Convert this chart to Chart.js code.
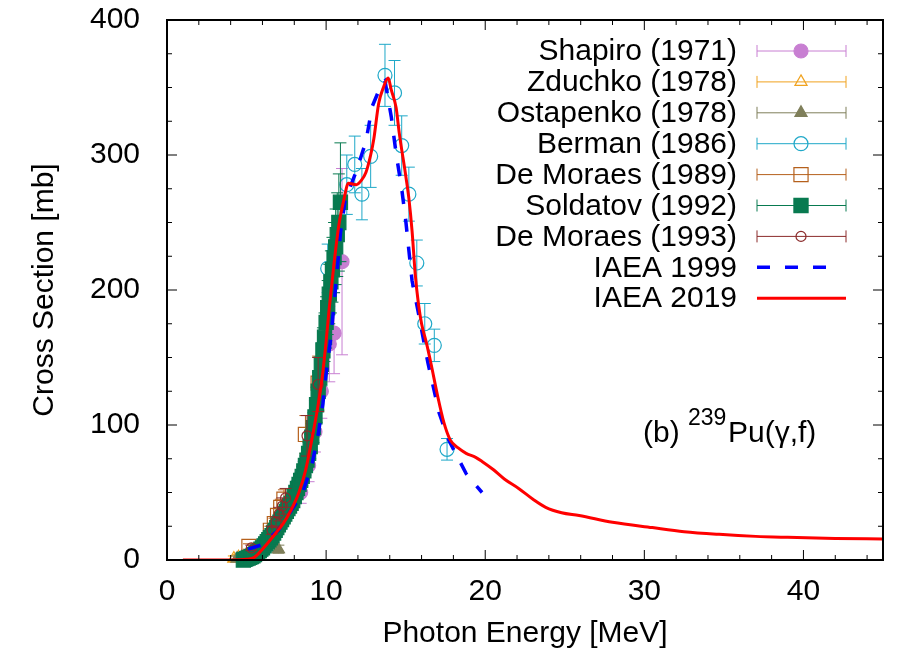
<!DOCTYPE html>
<html>
<head>
<meta charset="utf-8">
<script src="https://cdn.jsdelivr.net/npm/chart.js@4.4.1/dist/chart.umd.min.js"></script>
<style>
  html, body { margin: 0; padding: 0; background: #fff; }
</style>
</head>
<body>
<canvas id="xsChart" width="897" height="657"></canvas>
<script>
// ---- data (energy in MeV, cross section in mb) ----
const shapiroE   = [8.4, 8.9, 9.3, 9.7, 10.2, 10.5, 11.0];
const shapiroY   = [50, 70, 95, 125, 160, 168, 221];
const shapiroErr = [8, 12, 15, 20, 28, 30, 69];

const zduchkoE   = [4.2, 4.5, 4.8, 5.2];
const zduchkoY   = [1, 2, 2, 4];
const zduchkoErr = [2, 2, 2, 3];

const ostapenkoE   = [4.4, 4.7, 5.0, 7.0];
const ostapenkoY   = [1, 2, 3, 8];
const ostapenkoErr = [2, 2, 2, 3];

const bermanE   = [10.1, 11.3, 11.8, 12.25, 12.8, 13.7, 14.3, 14.75, 15.2, 15.7, 16.2, 16.8, 17.6];
const bermanY   = [216, 278, 293, 271, 299, 359, 346, 307, 271, 220, 175, 159, 82];
const bermanErr = [18, 22, 21, 19, 23, 23, 24, 22, 20, 17, 15, 12, 8];

const moraes89E   = [5.15, 6.5, 6.75, 6.95, 7.15, 7.35, 8.7, 9.5];
const moraes89Y   = [10, 22, 27, 33, 39, 45, 93, 131];
const moraes89Err = [2, 3, 4, 5, 6, 7, 14, 20];

const soldatovE = [4.8, 4.9, 5.0, 5.1, 5.2, 5.3, 5.4, 5.5, 5.6, 5.7, 5.8, 5.9, 6.0, 6.1, 6.2, 6.3,
                   6.4, 6.5, 6.6, 6.7, 6.8, 6.9, 7.0, 7.1, 7.2, 7.3, 7.4, 7.5, 7.6, 7.7, 7.8, 7.9,
                   8.0, 8.1, 8.2, 8.3, 8.4, 8.5, 8.6, 8.7, 8.8, 8.9, 9.0, 9.1, 9.2, 9.3, 9.4, 9.5,
                   9.6, 9.7, 9.8, 9.9, 10.0, 10.1, 10.2, 10.3, 10.4, 10.5, 10.6, 10.7, 10.8, 10.9];
const soldatovY = [0, 0.5, 1, 1.5, 2, 2.5, 3, 4, 5, 6, 7, 8, 9, 10.5, 12, 13.5,
                   15, 16.5, 18, 20, 22, 24, 26, 28, 30, 32, 34, 36, 38, 40, 42, 44,
                   47, 50, 53, 56, 59, 62, 66, 70, 74, 79, 84, 91, 98, 106, 115, 125,
                   135, 145, 155, 165, 176, 187, 197, 206, 215, 224, 232, 241, 250, 265];
const soldatovErr = [1, 1, 1, 1, 1, 1, 1, 1, 1, 1, 1, 1, 2, 2, 2, 2,
                     2, 2, 2, 3, 3, 3, 3, 3, 3, 4, 4, 4, 4, 4, 5, 5,
                     5, 5, 6, 6, 6, 7, 7, 7, 8, 8, 9, 10, 11, 12, 13, 14,
                     15, 16, 17, 18, 19, 20, 22, 23, 24, 26, 28, 31, 36, 44];

const moraes93E   = [5.3, 6.6, 6.85, 7.05, 7.25, 7.45, 8.8, 9.5];
const moraes93Y   = [9, 22, 28, 34, 40, 46, 92, 130];
const moraes93Err = [2, 3, 4, 5, 6, 7, 15, 20];

const iaea1999E = [5.1, 5.9, 7.0, 8.1, 8.5, 9.1, 9.5, 9.8, 10.05, 10.3, 10.5, 10.7, 10.9, 11.2, 11.9,
                   12.5, 12.9, 13.5, 13.7, 14.1, 14.4, 14.75, 15.0, 15.4, 15.8, 16.4, 17.1, 17.7, 18.8, 19.8];
const iaea1999Y = [8, 11, 22, 42, 49, 70, 93, 116, 143, 165, 190, 215, 242, 267, 288,
                   310, 336, 353, 355, 328, 301, 275, 252, 207, 183, 146, 109, 89, 64, 50];

const iaea2019E = [1.0, 2.0, 3.0, 4.0, 5.0, 5.5, 6.0, 6.5, 6.84, 7.3, 7.8, 8.29, 8.7, 9.1, 9.5, 9.75,
                   10.0, 10.2, 10.5, 10.8, 11.1, 11.4, 11.9, 12.2, 12.5, 12.8, 13.0, 13.3, 13.6, 13.9,
                   14.1, 14.4, 14.6, 15.0, 15.2, 15.4, 15.6, 15.8, 16.0, 16.3, 16.6, 17.0, 17.4, 17.8,
                   18.3, 18.8, 19.4, 19.8, 20.5, 21.2, 22.1, 23.0, 23.8, 24.8, 25.9, 28.0, 30.5, 32.5,
                   34.7, 37.0, 39.0, 42.0, 45.0];
const iaea2019Y = [0, 0, 0, 0, 0.5, 2, 8, 15, 20, 27, 37, 50, 66, 89, 115, 135,
                   162, 187, 220, 248, 266, 279, 278, 281, 287, 300, 312, 338, 350, 357,
                   348, 335, 316, 285, 268, 244, 212, 190, 175, 161, 145, 122, 102, 89,
                   83, 79, 76, 73, 67, 60, 53, 45, 39, 35, 33, 28, 24, 21,
                   19, 17.5, 16.8, 16, 15.5];

const xTicks = [0, 10, 20, 30, 40];
const yTicks = [0, 100, 200, 300, 400];

const FONT = "'Liberation Sans', Arial, Helvetica, sans-serif";

function pairs(E, Y) {
    return E.map((e, i) => ({ x: e, y: Y[i] }));
}

function markerSet(label, E, Y, err, color, style, radius, filled, order) {
    return {
        label: label,
        data: pairs(E, Y),
        errors: err,
        pointStyle: style,
        pointRadius: radius,
        pointBorderWidth: 1.2,
        pointBorderColor: color,
        pointBackgroundColor: filled ? color : 'rgba(0,0,0,0)',
        borderColor: color,
        backgroundColor: filled ? color : 'rgba(0,0,0,0)',
        showLine: false,
        order: order,
        clip: false
    };
}

// vertical error bars with caps, drawn under each set's markers
const errorBars = {
    id: 'errorBars',
    beforeDatasetDraw(chart, args) {
        const ds = chart.data.datasets[args.index];
        if (!ds.errors) return;
        const yScale = chart.scales.y;
        const ctx = chart.ctx;
        ctx.save();
        ctx.strokeStyle = ds.borderColor;
        ctx.lineWidth = 1;
        ctx.beginPath();
        args.meta.data.forEach((pt, i) => {
            const v = ds.data[i].y, e = ds.errors[i];
            const top = yScale.getPixelForValue(v + e);
            const bot = yScale.getPixelForValue(v - e);
            ctx.moveTo(pt.x, top); ctx.lineTo(pt.x, bot);
            ctx.moveTo(pt.x - 6, top); ctx.lineTo(pt.x + 6, top);
            ctx.moveTo(pt.x - 6, bot); ctx.lineTo(pt.x + 6, bot);
        });
        ctx.stroke();
        ctx.restore();
    }
};

// gnuplot-like frame with inward ticks on all four sides
const frameTicks = {
    id: 'frameTicks',
    afterDatasetsDraw(chart) {
        const { ctx, chartArea: a, scales: { x, y } } = chart;
        ctx.save();
        ctx.strokeStyle = '#000';
        ctx.lineWidth = 1;
        ctx.beginPath();
        for (let v = 0; v <= 45; v += 2) {
            const px = x.getPixelForValue(v);
            const len = v % 10 === 0 ? 10 : 5;
            ctx.moveTo(px, a.bottom); ctx.lineTo(px, a.bottom - len);
            ctx.moveTo(px, a.top); ctx.lineTo(px, a.top + len);
        }
        for (let v = 0; v <= 400; v += 25) {
            const py = y.getPixelForValue(v);
            const len = v % 100 === 0 ? 10 : 5;
            ctx.moveTo(a.left, py); ctx.lineTo(a.left + len, py);
            ctx.moveTo(a.right, py); ctx.lineTo(a.right - len, py);
        }
        ctx.stroke();
        ctx.lineWidth = 2;
        ctx.strokeRect(a.left, a.top, a.right - a.left, a.bottom - a.top);
        ctx.restore();
    }
};

// key in the top right corner and the reaction label
const keyAndLabel = {
    id: 'keyAndLabel',
    afterDraw(chart) {
        const ctx = chart.ctx;
        const textRight = 737, x0 = 757, x1 = 846, xm = 801;
        ctx.save();
        chart.data.datasets.forEach((ds, i) => {
            const yy = 51 + i * 30.9;
            ctx.fillStyle = '#000';
            ctx.font = '30px ' + FONT;
            ctx.textAlign = 'right';
            ctx.textBaseline = 'middle';
            ctx.fillText(ds.label, textRight, yy + 1);
            ctx.strokeStyle = ds.borderColor;
            if (ds.errors) {
                ctx.lineWidth = 1;
                ctx.setLineDash([]);
                ctx.beginPath();
                ctx.moveTo(x0, yy); ctx.lineTo(x1, yy);
                ctx.moveTo(x0, yy - 6); ctx.lineTo(x0, yy + 6);
                ctx.moveTo(x1, yy - 6); ctx.lineTo(x1, yy + 6);
                ctx.stroke();
                ctx.fillStyle = ds.pointBackgroundColor;
                ctx.lineWidth = ds.pointBorderWidth;
                Chart.helpers.drawPoint(ctx, {
                    pointStyle: ds.pointStyle, radius: ds.pointRadius,
                    rotation: 0, borderWidth: ds.pointBorderWidth
                }, xm, yy);
            } else {
                ctx.lineWidth = ds.borderWidth;
                ctx.setLineDash(ds.borderDash || []);
                ctx.beginPath();
                ctx.moveTo(x0, yy); ctx.lineTo(ds.borderDash ? 836 : x1, yy);
                ctx.stroke();
                ctx.setLineDash([]);
            }
        });
        ctx.fillStyle = '#000';
        ctx.textAlign = 'left';
        ctx.textBaseline = 'alphabetic';
        ctx.font = '30px ' + FONT;
        ctx.fillText('(b)', 643, 442);
        ctx.font = '23px ' + FONT;
        ctx.fillText('239', 688, 425);
        ctx.font = '30px ' + FONT;
        ctx.fillText('Pu(\u03b3,f)', 728, 442);
        ctx.restore();
    }
};

const datasets = [
    markerSet('Shapiro (1971)', shapiroE, shapiroY, shapiroErr, '#c87fd2', 'circle', 7, true, 8),
    markerSet('Zduchko (1978)', zduchkoE, zduchkoY, zduchkoErr, '#f0a21e', 'triangle', 7, false, 7),
    markerSet('Ostapenko (1978)', ostapenkoE, ostapenkoY, ostapenkoErr, '#7f7f5a', 'triangle', 7, true, 6),
    markerSet('Berman (1986)', bermanE, bermanY, bermanErr, '#1fa8c8', 'circle', 7, false, 5),
    markerSet('De Moraes (1989)', moraes89E, moraes89Y, moraes89Err, '#b5601c', 'rect', 10, false, 4),
    markerSet('Soldatov (1992)', soldatovE, soldatovY, soldatovErr, '#087a50', 'rect', 10, true, 3),
    markerSet('De Moraes (1993)', moraes93E, moraes93Y, moraes93Err, '#8b2b2b', 'circle', 5, false, 2),
    {
        label: 'IAEA 1999',
        data: pairs(iaea1999E, iaea1999Y),
        showLine: true,
        borderColor: '#0000ff',
        borderWidth: 3.5,
        borderDash: [13, 15],
        pointRadius: 0,
        tension: 0,
        order: 1
    },
    {
        label: 'IAEA 2019',
        data: pairs(iaea2019E, iaea2019Y),
        showLine: true,
        borderColor: '#ff0000',
        borderWidth: 3,
        pointRadius: 0,
        cubicInterpolationMode: 'monotone',
        order: 0
    }
];

const ctx = document.getElementById('xsChart').getContext('2d');
const chart = new Chart(ctx, {
    type: 'scatter',
    data: { datasets: datasets },
    options: {
        responsive: false,
        animation: false,
        devicePixelRatio: 1,
        layout: { padding: { top: 20, right: 14, left: 0, bottom: 0 } },
        scales: {
            x: {
                type: 'linear',
                min: 0,
                max: 45,
                afterFit: scale => { scale.height = 97; },
                afterBuildTicks: scale => { scale.ticks = xTicks.map(v => ({ value: v })); },
                grid: { display: false },
                border: { display: false },
                ticks: {
                    color: '#000',
                    font: { family: FONT, size: 30 },
                    padding: 6,
                    maxRotation: 0
                },
                title: {
                    display: true,
                    text: 'Photon Energy [MeV]',
                    color: '#000',
                    font: { family: FONT, size: 30 },
                    padding: { top: 0, bottom: 5 }
                }
            },
            y: {
                type: 'linear',
                min: 0,
                max: 400,
                afterFit: scale => {
                    scale.width = 167;
                    scale.paddingTop = 0;
                    scale.paddingBottom = 0;
                },
                afterBuildTicks: scale => { scale.ticks = yTicks.map(v => ({ value: v })); },
                grid: { display: false },
                border: { display: false },
                ticks: {
                    color: '#000',
                    font: { family: FONT, size: 30 },
                    padding: 19
                },
                title: {
                    display: true,
                    text: 'Cross Section [mb]',
                    color: '#000',
                    font: { family: FONT, size: 30 },
                    padding: { top: 27, bottom: 0 }
                }
            }
        },
        plugins: {
            legend: { display: false },
            tooltip: { enabled: false }
        }
    },
    plugins: [errorBars, frameTicks, keyAndLabel]
});
</script>
</body>
</html>
